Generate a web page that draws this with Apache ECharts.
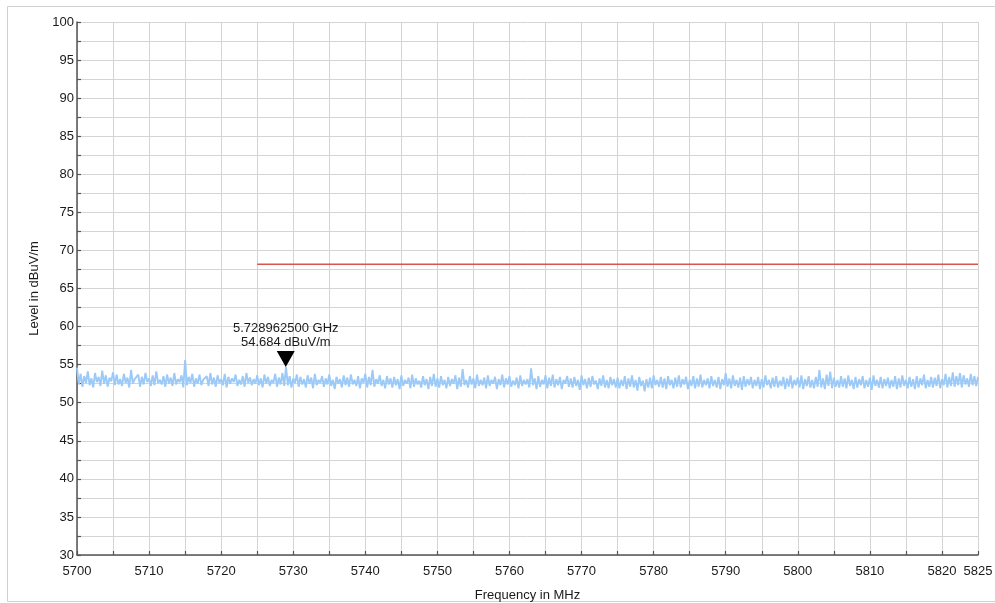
<!DOCTYPE html>
<html>
<head>
<meta charset="utf-8">
<script src="https://cdn.jsdelivr.net/npm/echarts@6/dist/echarts.min.js"></script>
<style>
html,body{margin:0;padding:0;background:#fff;}
#chart{width:995px;height:603px;}
</style>
</head>
<body>
<div id="chart"></div>
<script>
// Frequency axis (MHz)
const freqStart = 5700;
const freqStep = 0.25;
const xMin = 5700, xMax = 5825;
const yMin = 30, yMax = 100;

// Measured level trace (dBuV/m), one value every 0.25 MHz from 5700 MHz
const levels = [
54.6,52.4,53.8,52.1,53.5,52.6,54.1,52.3,53.2,52.0,53.9,52.7,53.4,52.2,54.2,52.5,53.6,52.1,53.3,52.8,54.0,52.3,53.7,52.4,53.1,
52.2,53.8,52.6,53.3,52.0,54.3,52.5,53.1,52.9,53.7,52.1,53.4,52.4,53.9,52.7,53.2,52.2,53.6,52.3,54.1,52.6,53.0,52.4,53.5,52.1,
53.7,52.5,53.3,52.2,53.9,52.4,53.1,52.7,53.6,52.0,55.6,52.3,53.4,52.6,53.8,52.1,53.2,52.5,53.7,52.3,53.0,52.8,53.5,52.2,53.9,
52.4,53.3,52.1,53.6,52.6,53.1,52.3,53.8,52.0,53.4,52.5,53.2,52.7,53.7,52.2,53.0,52.4,53.5,52.1,53.9,52.6,53.3,52.3,53.1,52.5,
53.6,52.3,53.2,52.0,53.7,52.5,53.4,52.2,53.0,52.6,53.8,52.1,53.3,52.4,53.9,52.2,54.7,52.3,53.5,52.0,53.2,52.6,53.7,52.1,53.4,
52.4,53.1,52.0,53.6,52.5,53.3,51.9,53.8,52.3,53.0,52.6,53.5,52.1,53.2,52.4,53.7,52.2,53.0,51.8,53.4,52.5,53.1,52.0,53.6,52.3,
53.3,52.1,53.7,52.4,53.0,52.2,53.5,51.9,53.2,52.6,53.8,52.0,53.4,52.3,54.3,52.1,53.1,52.5,53.6,52.2,53.0,51.9,53.5,52.4,53.2,
52.0,53.4,52.3,53.1,51.8,53.6,52.2,53.0,52.5,53.3,51.9,53.7,52.1,53.2,52.4,52.9,52.0,53.5,52.3,53.1,51.8,53.4,52.2,53.8,52.1,
53.2,52.0,53.5,52.3,53.0,51.9,53.4,52.2,53.1,52.5,53.6,51.8,53.3,52.1,54.4,52.3,53.0,52.0,53.5,52.4,53.2,51.9,53.7,52.2,53.0,
52.3,53.3,51.9,53.6,52.2,53.0,52.5,53.4,51.8,53.1,52.3,53.7,52.0,53.2,52.4,53.5,52.1,52.9,52.3,53.3,51.9,53.6,52.2,53.0,52.4,
53.1,52.0,54.5,52.3,53.2,51.8,53.5,52.1,53.0,52.4,53.6,51.9,53.3,52.2,53.7,52.0,53.1,52.3,53.4,51.8,53.0,52.5,53.5,52.1,53.2,
52.0,53.4,52.2,53.0,51.7,53.6,52.3,53.1,51.9,53.3,52.1,53.5,52.4,52.9,51.8,53.2,52.2,53.6,52.0,53.0,51.9,53.4,52.3,53.1,52.0,
53.3,51.9,53.0,52.2,53.5,51.8,53.2,52.1,53.6,52.0,53.0,51.6,53.4,52.2,52.9,51.5,53.1,52.0,53.3,51.9,53.6,52.3,53.0,52.1,53.4,
52.0,53.2,51.8,53.5,52.3,53.0,51.9,53.3,52.1,53.6,52.0,53.1,52.4,53.4,51.8,53.0,52.2,53.5,51.9,53.2,52.1,53.7,52.0,53.0,52.3,
53.2,51.9,53.5,52.2,53.0,52.0,53.4,51.8,53.1,52.3,53.9,52.1,53.2,51.9,53.6,52.2,53.0,52.0,53.3,51.7,53.5,52.1,53.1,52.3,53.4,
51.9,53.0,52.2,53.4,51.8,53.1,52.0,53.6,52.3,53.0,51.9,53.3,52.1,53.5,52.0,52.9,52.2,53.4,51.8,53.2,52.1,53.6,51.9,53.0,52.3,
53.3,52.0,53.6,51.8,53.1,52.2,53.5,52.0,53.0,51.9,53.4,52.1,54.3,52.0,53.2,51.8,53.7,52.2,54.1,51.9,53.3,52.1,53.0,52.0,53.5,
52.1,53.2,51.9,53.6,52.2,53.0,51.8,53.4,52.0,53.1,52.3,53.5,51.9,53.0,52.1,53.3,51.7,53.6,52.2,53.0,52.0,53.4,51.9,53.1,52.2,
53.3,51.9,53.0,52.1,53.5,51.8,53.2,52.0,53.6,52.2,53.0,51.9,53.4,52.1,53.1,51.8,53.5,52.0,53.2,52.3,53.7,51.9,53.0,52.1,53.4,
52.0,53.3,52.2,53.7,51.9,53.1,52.3,53.8,52.0,53.4,52.2,54.0,52.1,53.5,52.3,53.9,52.0,53.6,52.4,53.2,52.1,53.8,52.3,53.5,52.2,
53.4
];

// Limit line
const limitFreqs = [5725, 5825];
const limitLevel = 68.2;

// Marker
const markerFreq = 5728.9625;
const markerLevel = 54.684;
const markerLabel = ['5.728962500 GHz', '54.684 dBuV/m'];

const traceData = levels.map((v, i) => [freqStart + i * freqStep, v]);
const limitData = limitFreqs.map(f => [f, limitLevel]);

const chart = echarts.init(document.getElementById('chart'), null, {renderer: 'canvas'});
const font = 'Liberation Sans, Arial, sans-serif';

chart.setOption({
  animation: false,
  backgroundColor: '#ffffff',
  textStyle: {fontFamily: font},
  graphic: [{
    type: 'rect',
    shape: {x: 7.5, y: 6.5, width: 1000, height: 595},
    style: {fill: 'none', stroke: '#d0d0d0', lineWidth: 1},
    silent: true, z: -10
  }],
  grid: {left: 77, right: 17, top: 22, bottom: 48, containLabel: false, outerBoundsMode: 'none'},
  xAxis: {
    type: 'value', min: xMin, max: xMax, interval: 5,
    name: 'Frequency in MHz', nameLocation: 'middle', nameGap: 34,
    nameTextStyle: {color: '#1a1a1a', fontSize: 13, fontFamily: font},
    axisLine: {show: true, onZero: false, lineStyle: {color: '#555', width: 1.5}},
    axisTick: {show: true, inside: true, length: 4, lineStyle: {color: '#555', width: 1.2}},
    axisLabel: {
      color: '#1a1a1a', fontSize: 13, fontFamily: font, margin: 10, showMinLabel: true, showMaxLabel: true,
      formatter: v => (v % 10 === 0 || v === xMax) ? String(v) : ''
    },
    splitLine: {show: true, lineStyle: {color: '#d4d4d4', width: 1}}
  },
  yAxis: {
    type: 'value', min: yMin, max: yMax, interval: 2.5,
    name: 'Level in dBuV/m', nameLocation: 'middle', nameGap: 35, nameRotate: 90,
    nameTextStyle: {color: '#1a1a1a', fontSize: 13, fontFamily: font},
    axisLine: {show: true, onZero: false, lineStyle: {color: '#555', width: 1.5}},
    axisTick: {show: true, inside: true, length: 4, lineStyle: {color: '#555', width: 1.2}},
    axisLabel: {
      color: '#1a1a1a', fontSize: 13, fontFamily: font, margin: 3,
      formatter: v => (v % 5 === 0) ? String(v) : ''
    },
    splitLine: {show: true, lineStyle: {color: '#d4d4d4', width: 1}}
  },
  series: [
    {
      type: 'line', data: traceData, showSymbol: false, symbol: 'none',
      lineStyle: {color: '#9ccaf8', width: 1.9}, z: 3
    },
    {
      type: 'line', data: limitData, showSymbol: false, symbol: 'none',
      lineStyle: {color: '#d9534f', width: 1.5}, z: 4
    },
    {
      type: 'scatter', data: [[markerFreq, markerLevel]],
      symbol: 'triangle', symbolRotate: 180, symbolSize: [18, 16], symbolOffset: [0, -8],
      itemStyle: {color: '#000', opacity: 1}, z: 6,
      label: {
        show: true, position: 'top', distance: 2,
        formatter: markerLabel.join('\n'),
        color: '#1a1a1a', fontSize: 13, fontFamily: font, lineHeight: 14, align: 'center'
      }
    }
  ]
});
</script>
</body>
</html>
